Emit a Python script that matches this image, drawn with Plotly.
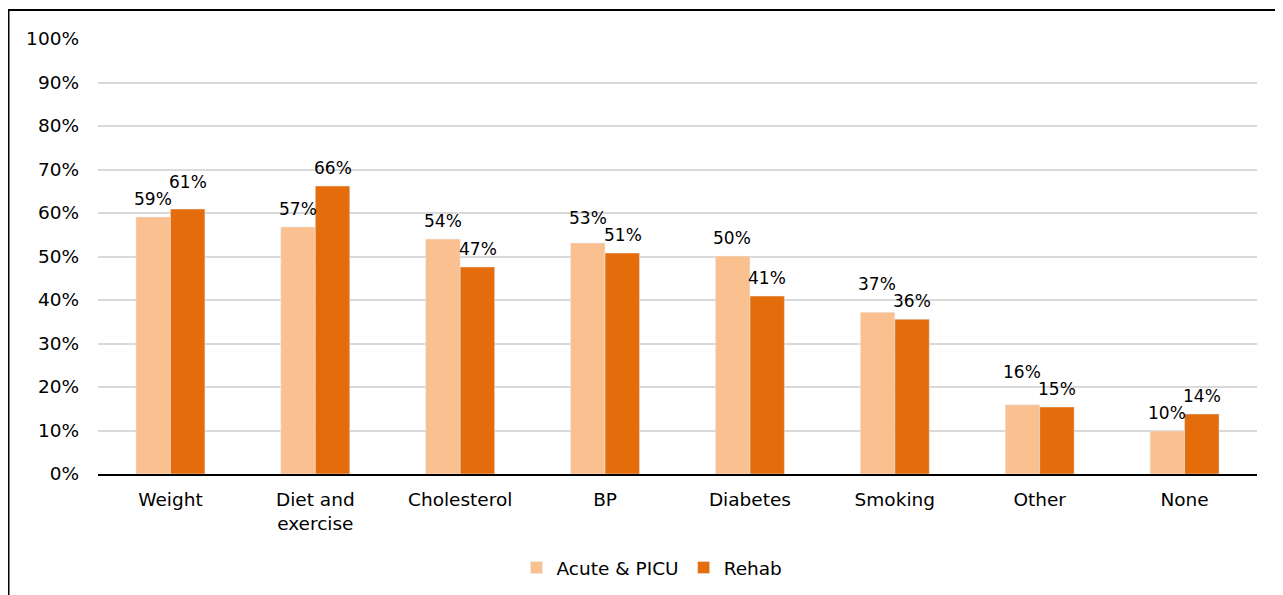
import plotly.graph_objects as go

categories = ["Weight", "Diet and<br>exercise", "Cholesterol", "BP", "Diabetes", "Smoking", "Other", "None"]
acute = [59.1, 56.8, 54.0, 53.1, 50.1, 37.2, 15.9, 9.9]
rehab = [60.9, 66.2, 47.6, 50.8, 40.9, 35.6, 15.4, 13.8]
acute_labels = ["59%", "57%", "54%", "53%", "50%", "37%", "16%", "10%"]
rehab_labels = ["61%", "66%", "47%", "51%", "41%", "36%", "15%", "14%"]
y_ticks = list(range(0, 101, 10))
y_tick_labels = [f"{v}%" for v in y_ticks]

FONT = "DejaVu Sans"
FS = 18.5
FS_LAB = 17
C_ACUTE = "#FAC090"
C_REHAB = "#E46C0A"

# page has an 8px body margin; compensate
OFF = 8
PW, PH = 1283, 595
W, H = PW - OFF, PH - OFF
L, R, T, B = 98 - OFF, 26, 39 - OFF, 121
pw, ph = W - L - R, H - T - B
px = lambda x: (x - OFF - L) / pw
py = lambda y: (H - B - (y - OFF)) / ph
PX_PER_UNIT = ph / 100.0

fig = go.Figure()
fig.add_trace(go.Bar(name="Acute & PICU", x=categories, y=acute, marker_color=C_ACUTE))
fig.add_trace(go.Bar(name="Rehab", x=categories, y=rehab, marker_color=C_REHAB))

# data labels: default offset above bar; if the pair is too close vertically, lift the higher one
BASE = 18
MIN_SEP = 14
SEP = 17
annotations = []
for cat, va, vr, la, lr in zip(categories, acute, rehab, acute_labels, rehab_labels):
    sa, sr = BASE, BASE
    ya, yr = va * PX_PER_UNIT + sa, vr * PX_PER_UNIT + sr
    if abs(ya - yr) < MIN_SEP:
        if ya >= yr:
            sa = yr + SEP - va * PX_PER_UNIT
        else:
            sr = ya + SEP - vr * PX_PER_UNIT
    annotations.append(dict(x=cat, y=va, text=la, showarrow=False, xshift=-17.5,
                            yshift=sa, yanchor="middle", font=dict(family=FONT, size=FS_LAB, color="#000")))
    annotations.append(dict(x=cat, y=vr, text=lr, showarrow=False, xshift=17.5,
                            yshift=sr, yanchor="middle", font=dict(family=FONT, size=FS_LAB, color="#000")))

fig.update_layout(
    width=W, height=H,
    margin=dict(l=L, r=R, t=T, b=B),
    paper_bgcolor="white", plot_bgcolor="white",
    barmode="group", bargap=0.524, bargroupgap=0,
    font=dict(family=FONT, size=FS, color="#000"),
    annotations=annotations,
    legend=dict(orientation="h", xref="container", x=(652 - OFF) / W, xanchor="center",
                yref="container", y=(H - (568 - OFF)) / H, yanchor="middle",
                font=dict(family=FONT, size=FS), itemwidth=30, traceorder="normal"),
    xaxis=dict(showgrid=False, showline=True, linecolor="#000", linewidth=1.5,
               tickfont=dict(family=FONT, size=FS), ticks="", ticklabelstandoff=8, fixedrange=True),
    yaxis=dict(range=[0, 100], tickvals=y_ticks, ticktext=y_tick_labels,
               showgrid=True, gridcolor="#D9D9D9", gridwidth=1.5, zeroline=False,
               showline=False, ticks="", ticklabelstandoff=18,
               tickfont=dict(family=FONT, size=FS)),
    shapes=[dict(type="rect", xref="paper", yref="paper",
                 x0=px(OFF + 0.5), x1=px(1300), y0=py(610), y1=py(10),
                 line=dict(color="#000", width=2), fillcolor="rgba(0,0,0,0)", layer="above")],
)

fig.write_html("out.html")
